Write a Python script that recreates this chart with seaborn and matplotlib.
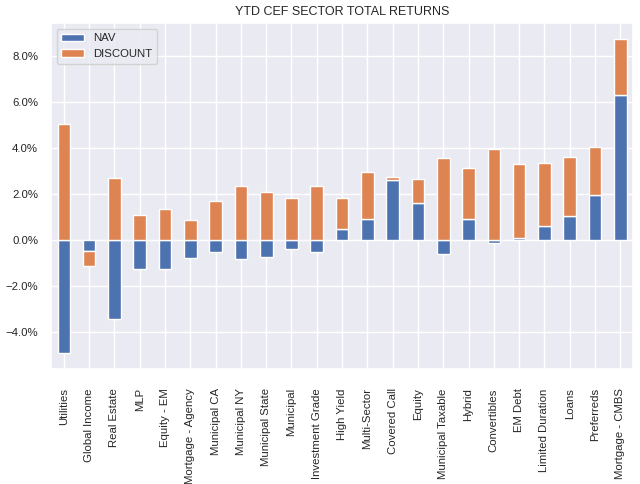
import pandas as pd
import numpy as np
import matplotlib
matplotlib.use("Agg")
import matplotlib.pyplot as plt
import matplotlib.ticker as mtick
import seaborn as sns

sectors = ["Utilities", "Global Income", "Real Estate", "MLP", "Equity - EM",
           "Mortgage - Agency", "Municipal CA", "Municipal NY", "Municipal State",
           "Municipal", "Investment Grade", "High Yield", "Multi-Sector",
           "Covered Call", "Equity", "Municipal Taxable", "Hybrid", "Convertibles",
           "EM Debt", "Limited Duration", "Loans", "Preferreds", "Mortgage - CMBS"]
nav = [-4.93, -0.48, -3.43, -1.28, -1.28, -0.80, -0.51, -0.83, -0.74,
       -0.38, -0.54, 0.46, 0.91, 2.61, 1.58, -0.62, 0.91, -0.16,
       0.10, 0.62, 1.04, 1.97, 6.28]
discount = [5.03, -0.64, 2.71, 1.06, 1.35, 0.84, 1.70, 2.32, 2.06,
            1.83, 2.35, 1.37, 2.06, 0.14, 1.06, 3.57, 2.23, 3.93,
            3.20, 2.71, 2.57, 2.06, 2.46]

sns.set_theme()
plt.rcParams['font.family'] = ['Liberation Sans', 'DejaVu Sans']

df = pd.DataFrame({"NAV": nav, "DISCOUNT": discount}, index=sectors)

fig, ax = plt.subplots(figsize=(6.4, 4.84), dpi=100)
df.plot(kind="bar", stacked=True, ax=ax)
ax.yaxis.set_major_formatter(mtick.PercentFormatter(xmax=100, decimals=1))
ax.set_title("YTD CEF SECTOR TOTAL RETURNS", fontsize=9)
ax.tick_params(axis="x", labelsize=8.2, pad=8)
ax.tick_params(axis="y", labelsize=8.2)
ax.legend(loc="upper left", fontsize=8.2)
plt.subplots_adjust(left=0.08, right=0.989, top=0.952, bottom=0.238)
plt.savefig("out.png")
